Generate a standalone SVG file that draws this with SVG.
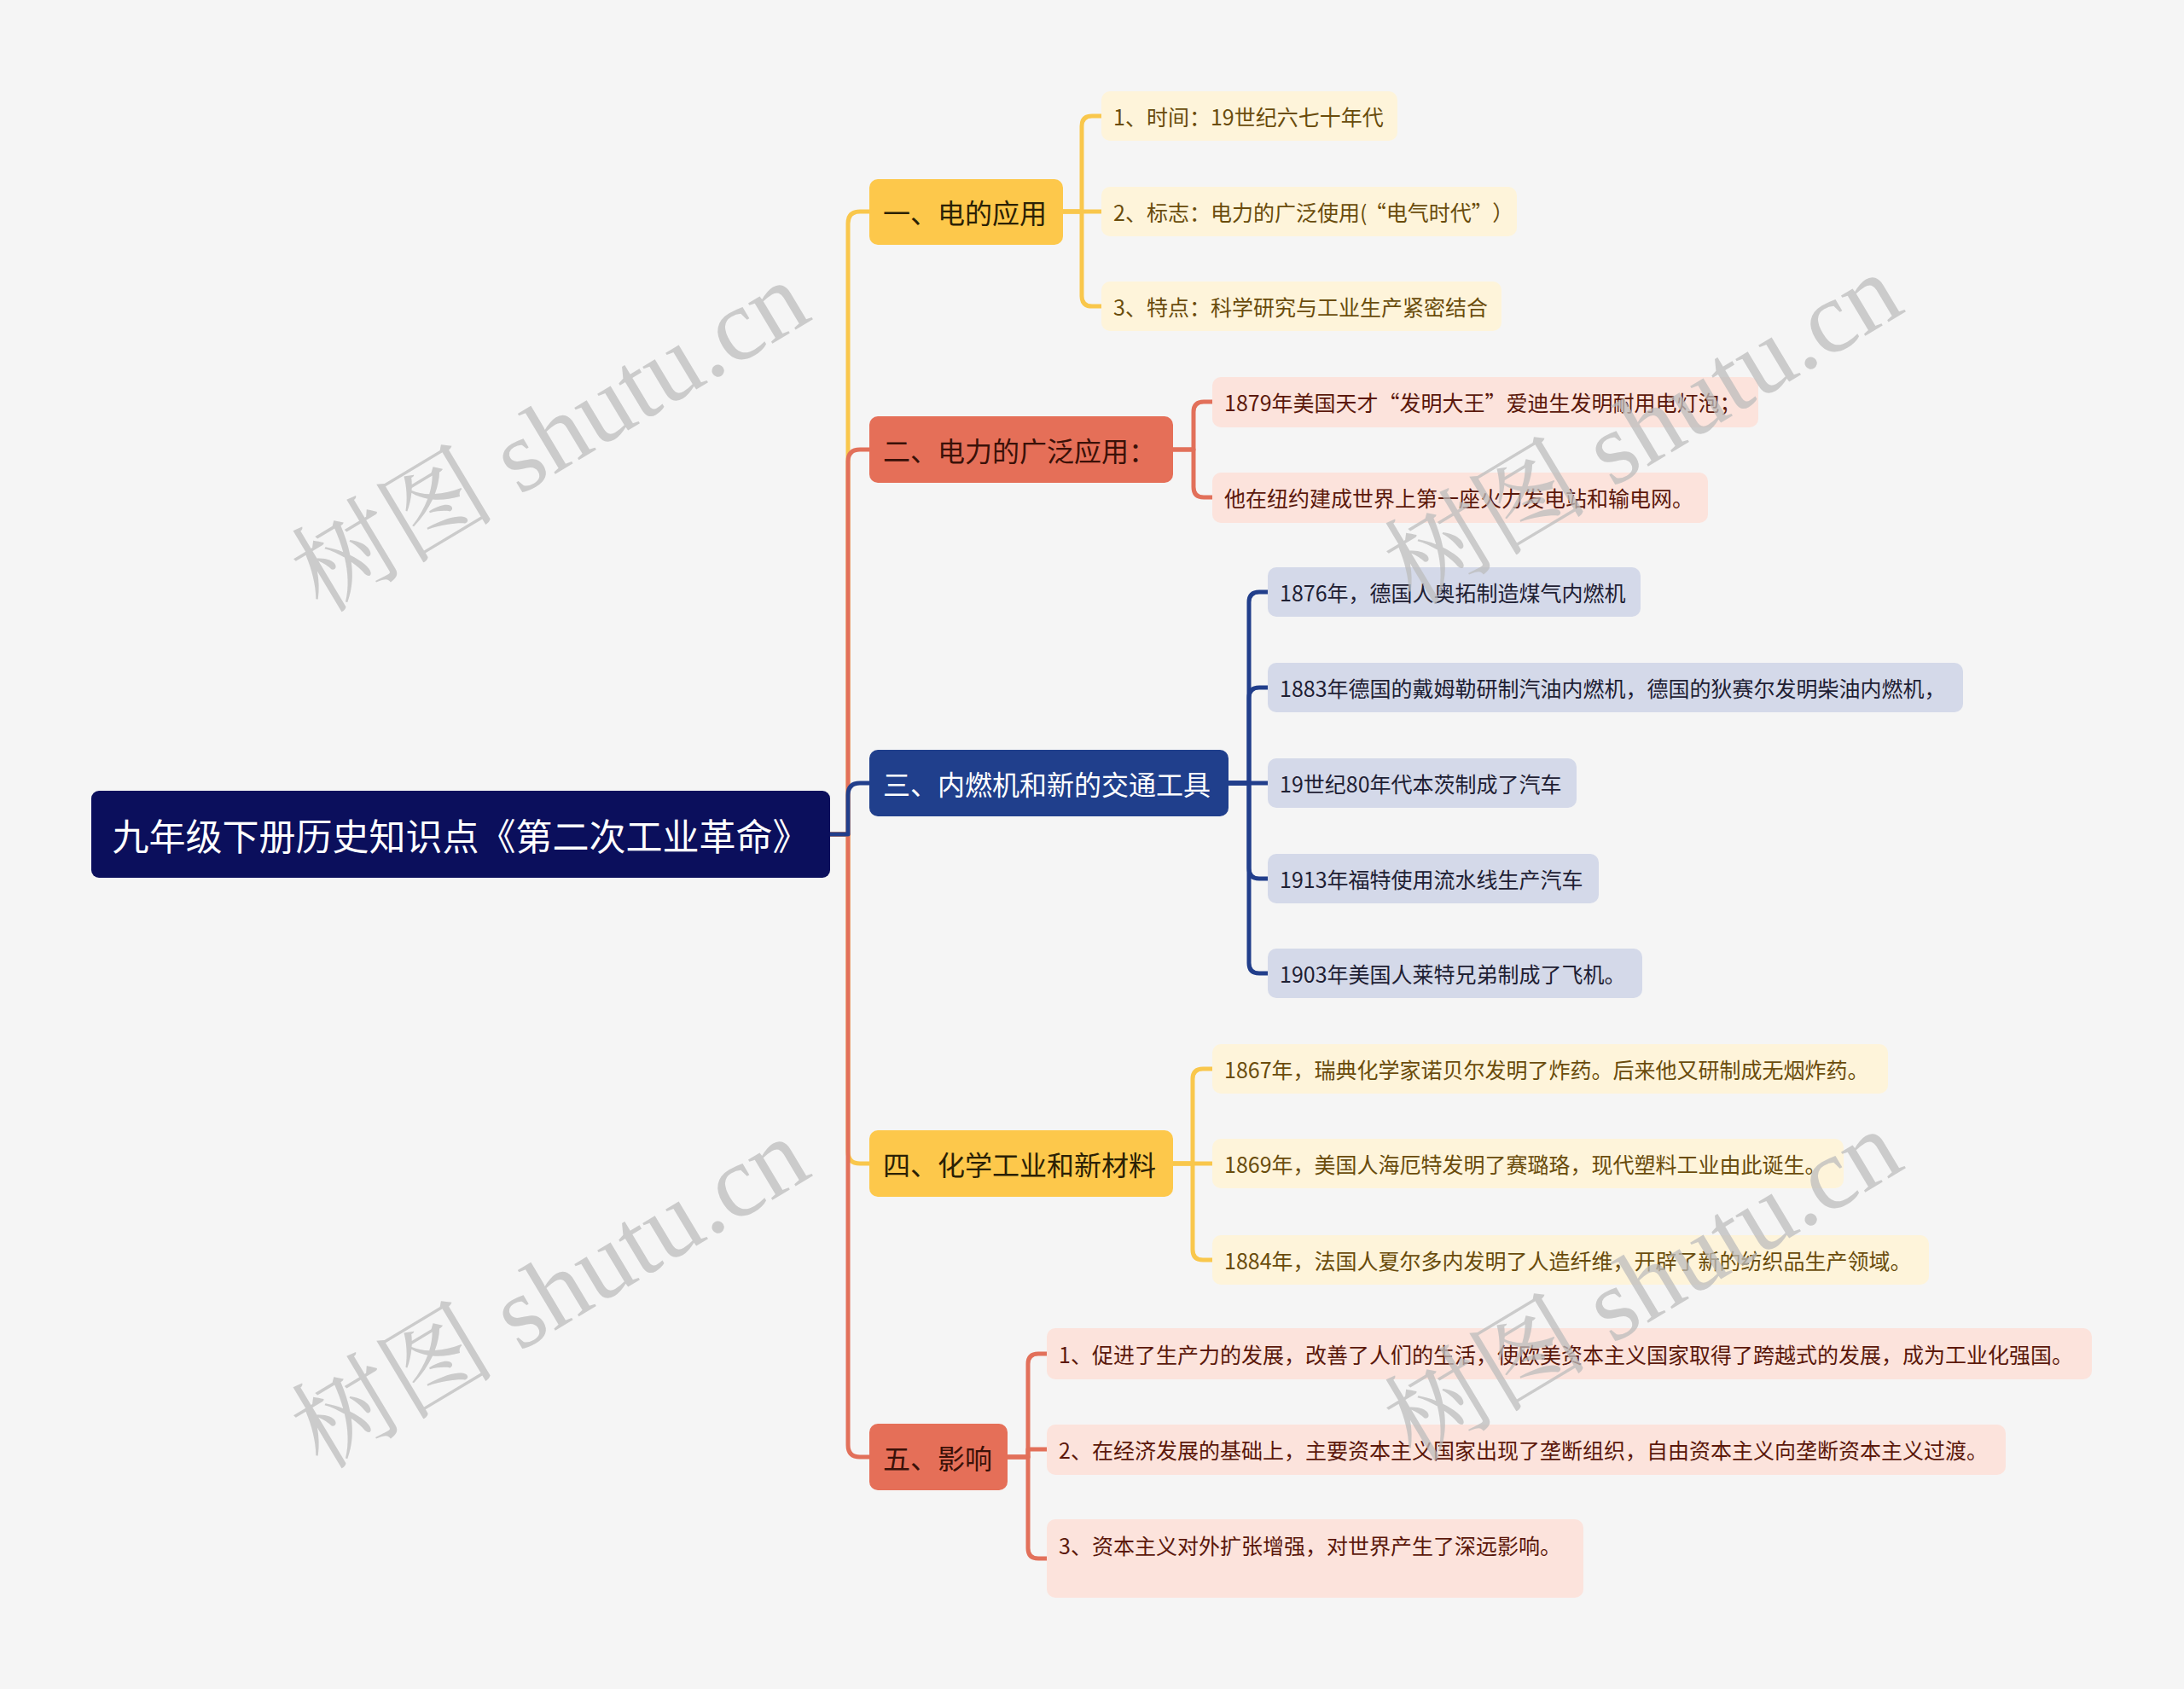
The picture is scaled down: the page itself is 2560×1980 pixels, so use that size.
<svg xmlns="http://www.w3.org/2000/svg" width="2560" height="1980" viewBox="0 0 2560 1980">
<style>
text{font-family:"Noto Sans CJK SC","Liberation Sans",sans-serif;dominant-baseline:central}
.c{fill:none;stroke-width:5;stroke-linejoin:round;stroke-linecap:butt}
.cy{stroke:#f9c74c}.co{stroke:#e2705a}.cb{stroke:#213e8b}
.root{fill:#0b0f5c}
.my{fill:#fdc84b}.mo{fill:#e56f58}.mb{fill:#203f8c}
.ly{fill:#fef4da}.lo{fill:#fce3dc}.lb{fill:#d4d9e9}
.tm{font-size:32px}
.tl{font-size:25px}
.ty{fill:#2b2105}.to{fill:#3a1108}.tw{fill:#ffffff}
.tly{fill:#6a4c0c}.tlo{fill:#5b180b}.tlb{fill:#1e2033}
.wm{font-family:"Liberation Serif","Noto Serif CJK SC","Noto Sans CJK SC",serif;font-size:120px;fill:#bdbdbd;opacity:0.75;text-anchor:middle}
</style>
<rect width="2560" height="1980" fill="#f5f5f5"/>
<g id="connectors">
<path class="c cy" d="M973,978 H994 V1350 Q994,1364 1008,1364 H1019"/>
<path class="c co" d="M973,978 H994 V1694 Q994,1708 1008,1708 H1019"/>
<path class="c cy" d="M973,978 H994 V262 Q994,248 1008,248 H1019"/>
<path class="c co" d="M973,978 H994 V541 Q994,527 1008,527 H1019"/>
<path class="c cb" d="M973,978 H994 V932 Q994,918 1008,918 H1019"/>
<path class="c cy" d="M1246,248 H1268 V148 Q1268,136 1280,136 H1291"/>
<path class="c cy" d="M1246,248 H1291"/>
<path class="c cy" d="M1246,248 H1268 V347 Q1268,359 1280,359 H1291"/>
<path class="c co" d="M1375,527 H1399 V483 Q1399,471 1411,471 H1421"/>
<path class="c co" d="M1375,527 H1399 V571 Q1399,583 1411,583 H1421"/>
<path class="c cb" d="M1440,918 H1464 V706 Q1464,694 1476,694 H1486"/>
<path class="c cb" d="M1440,918 H1464 V818 Q1464,806 1476,806 H1486"/>
<path class="c cb" d="M1440,918 H1486"/>
<path class="c cb" d="M1440,918 H1464 V1018 Q1464,1030 1476,1030 H1486"/>
<path class="c cb" d="M1440,918 H1464 V1129 Q1464,1141 1476,1141 H1486"/>
<path class="c cy" d="M1375,1364 H1398 V1265 Q1398,1253 1410,1253 H1421"/>
<path class="c cy" d="M1375,1364 H1421"/>
<path class="c cy" d="M1375,1364 H1398 V1465 Q1398,1477 1410,1477 H1421"/>
<path class="c co" d="M1181,1708 H1205 V1599 Q1205,1587 1217,1587 H1227"/>
<path class="c co" d="M1181,1708 H1205 V1699 H1227"/>
<path class="c co" d="M1181,1708 H1205 V1815 Q1205,1827 1217,1827 H1227"/>
</g>
<g id="root">
<rect class="root" x="107" y="927" width="866" height="102" rx="9"/>
<text class="tw" x="540" y="978" font-size="43" text-anchor="middle">九年级下册历史知识点《第二次工业革命》</text>
</g>
<g id="n1">
<rect class="my" x="1019" y="210" width="227" height="77" rx="10"/>
<text class="tm ty" x="1035" y="248">一、电的应用</text>
</g>
<g id="n1-1"><rect class="ly" x="1291" y="107" width="347" height="58" rx="10"/><text class="tl tly" x="1305" y="136">1、时间：19世纪六七十年代</text></g>
<g id="n1-2"><rect class="ly" x="1291" y="219" width="487" height="58" rx="10"/><text class="tl tly" x="1305" y="248">2、标志：电力的广泛使用(<tspan dx="10">“</tspan>电气时代”<tspan dx="12">）</tspan></text></g>
<g id="n1-3"><rect class="ly" x="1291" y="330" width="469" height="58" rx="10"/><text class="tl tly" x="1305" y="359">3、特点：科学研究与工业生产紧密结合</text></g>
<g id="n2">
<rect class="mo" x="1019" y="488" width="356" height="78" rx="10"/>
<text class="tm to" x="1035" y="527">二、电力的广泛应用：</text>
</g>
<g id="n2-1"><rect class="lo" x="1421" y="442" width="640" height="59" rx="10"/><text class="tl tlo" x="1435" y="471">1879年美国天才“发明大王”爱迪生发明耐用电灯泡；</text></g>
<g id="n2-2"><rect class="lo" x="1421" y="554" width="581" height="59" rx="10"/><text class="tl tlo" x="1435" y="583">他在纽约建成世界上第一座火力发电站和输电网。</text></g>
<g id="n3">
<rect class="mb" x="1019" y="879" width="421" height="78" rx="10"/>
<text class="tm tw" x="1035" y="918">三、内燃机和新的交通工具</text>
</g>
<g id="n3-1"><rect class="lb" x="1486" y="665" width="437" height="58" rx="10"/><text class="tl tlb" x="1500" y="694">1876年，德国人奥拓制造煤气内燃机</text></g>
<g id="n3-2"><rect class="lb" x="1486" y="777" width="815" height="58" rx="10"/><text class="tl tlb" x="1500" y="806">1883年德国的戴姆勒研制汽油内燃机，德国的狄赛尔发明柴油内燃机，</text></g>
<g id="n3-3"><rect class="lb" x="1486" y="889" width="362" height="58" rx="10"/><text class="tl tlb" x="1500" y="918">19世纪80年代本茨制成了汽车</text></g>
<g id="n3-4"><rect class="lb" x="1486" y="1001" width="388" height="58" rx="10"/><text class="tl tlb" x="1500" y="1030">1913年福特使用流水线生产汽车</text></g>
<g id="n3-5"><rect class="lb" x="1486" y="1112" width="439" height="58" rx="10"/><text class="tl tlb" x="1500" y="1141">1903年美国人莱特兄弟制成了飞机。</text></g>
<g id="n4">
<rect class="my" x="1019" y="1325" width="356" height="78" rx="10"/>
<text class="tm ty" x="1035" y="1364">四、化学工业和新材料</text>
</g>
<g id="n4-1"><rect class="ly" x="1421" y="1224" width="792" height="58" rx="10"/><text class="tl tly" x="1435" y="1253">1867年，瑞典化学家诺贝尔发明了炸药。后来他又研制成无烟炸药。</text></g>
<g id="n4-2"><rect class="ly" x="1421" y="1335" width="740" height="58" rx="10"/><text class="tl tly" x="1435" y="1364">1869年，美国人海厄特发明了赛璐珞，现代塑料工业由此诞生。</text></g>
<g id="n4-3"><rect class="ly" x="1421" y="1448" width="840" height="58" rx="10"/><text class="tl tly" x="1435" y="1477">1884年，法国人夏尔多内发明了人造纤维，开辟了新的纺织品生产领域。</text></g>
<g id="n5">
<rect class="mo" x="1019" y="1669" width="162" height="78" rx="10"/>
<text class="tm to" x="1035" y="1708">五、影响</text>
</g>
<g id="n5-1"><rect class="lo" x="1227" y="1557" width="1225" height="60" rx="10"/><text class="tl tlo" x="1241" y="1587">1、促进了生产力的发展，改善了人们的生活，使欧美资本主义国家取得了跨越式的发展，成为工业化强国。</text></g>
<g id="n5-2"><rect class="lo" x="1227" y="1670" width="1124" height="59" rx="10"/><text class="tl tlo" x="1241" y="1699">2、在经济发展的基础上，主要资本主义国家出现了垄断组织，自由资本主义向垄断资本主义过渡。</text></g>
<g id="n5-3"><rect class="lo" x="1227" y="1781" width="629" height="92" rx="10"/><text class="tl tlo" x="1241" y="1811">3、资本主义对外扩张增强，对世界产生了深远影响。</text></g>
<g id="watermarks">
<text class="wm" transform="translate(645,512) rotate(-31)">树图 shutu.cn</text>
<text class="wm" transform="translate(1926,503) rotate(-31)">树图 shutu.cn</text>
<text class="wm" transform="translate(645,1516) rotate(-31)">树图 shutu.cn</text>
<text class="wm" transform="translate(1926,1507) rotate(-31)">树图 shutu.cn</text>
</g>
</svg>
